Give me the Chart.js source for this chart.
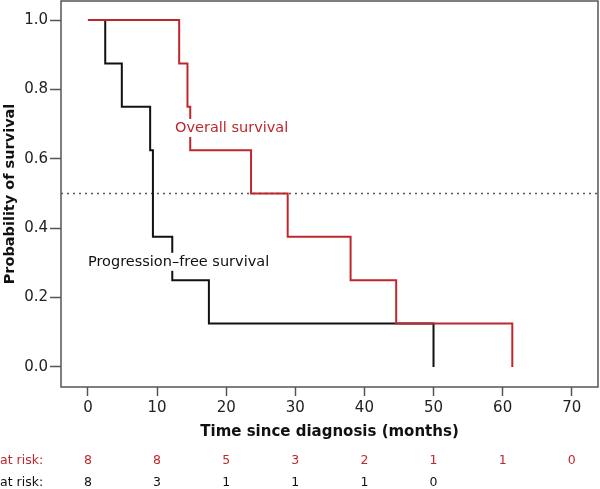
<!DOCTYPE html>
<html>
<head>
<meta charset="utf-8">
<script src="https://cdn.jsdelivr.net/npm/chart.js@4/dist/chart.umd.min.js"></script>
<style>
html,body{margin:0;padding:0;background:#fff;}
#wrap{width:600px;height:489px;position:relative;}
</style>
</head>
<body>
<div id="wrap"><canvas id="c" width="600" height="489"></canvas></div>
<script>
// ---- data ----
const osTimes  = [0, 13.2, 14.4, 14.8, 23.6, 28.9, 38.0, 44.6, 61.4];
const osSurv   = [1.0, 0.875, 0.75, 0.625, 0.5, 0.375, 0.25, 0.125, 0.0];
const pfsTimes = [0, 2.5, 4.9, 9.0, 9.4, 12.2, 17.5, 50.0];
const pfsSurv  = [1.0, 0.875, 0.75, 0.625, 0.375, 0.25, 0.125, 0.0];
const xTicks   = [0, 10, 20, 30, 40, 50, 60, 70];
const yTicks   = [0.0, 0.2, 0.4, 0.6, 0.8, 1.0];
const osAtRisk  = [8, 8, 5, 3, 2, 1, 1, 0];
const pfsAtRisk = [8, 3, 1, 1, 1, 0];
const medianLine = 0.5;
const osLabel  = {text: 'Overall survival', x: 12.6, y: 0.689};
const pfsLabel = {text: 'Progression\u2013free survival', x: 0.0, y: 0.303};

const RED = '#c0272d';
const BLACK = '#111111';
const AXIS = '#555555';
const FONT = '"DejaVu Sans", sans-serif';

const toPts = (t, s) => t.map((v, i) => ({x: v, y: s[i]}));

const overlay = {
  id: 'overlay',
  beforeDatasetsDraw(chart) {
    const {ctx, chartArea: a, scales: {x, y}} = chart;
    ctx.save();
    const yy = Math.round(y.getPixelForValue(medianLine)) + 0.5;
    ctx.strokeStyle = '#555';
    ctx.lineWidth = 1.3;
    ctx.setLineDash([2, 4]);
    ctx.beginPath(); ctx.moveTo(a.left, yy); ctx.lineTo(a.right, yy); ctx.stroke();
    ctx.restore();
  },
  afterDatasetsDraw(chart) {
    const {ctx, chartArea: a, scales: {x, y}} = chart;
    ctx.save();
    ctx.font = '14.5px ' + FONT;
    ctx.textBaseline = 'middle';
    ctx.textAlign = 'left';
    [[osLabel, RED], [pfsLabel, BLACK]].forEach(([l, col]) => {
      const px = x.getPixelForValue(l.x), py = y.getPixelForValue(l.y);
      const w = ctx.measureText(l.text).width;
      ctx.fillStyle = '#fff';
      ctx.fillRect(px - 2, py - 9, w + 4, 18);
      ctx.fillStyle = col;
      ctx.fillText(l.text, px, py);
    });
    ctx.strokeStyle = AXIS;
    ctx.lineWidth = 1.5;
    ctx.strokeRect(a.left, a.top, a.right - a.left, a.bottom - a.top);
    ctx.font = '12.5px ' + FONT;
    ctx.textBaseline = 'middle';
    const rows = [[osAtRisk, RED, 461], [pfsAtRisk, BLACK, 483]];
    rows.forEach(([vals, col, ry]) => {
      ctx.fillStyle = col;
      ctx.textAlign = 'left';
      ctx.fillText('at risk:', 0, ry);
      ctx.textAlign = 'center';
      vals.forEach((v, i) => ctx.fillText(String(v), x.getPixelForValue(xTicks[i]), ry));
    });
    ctx.restore();
  }
};

new Chart(document.getElementById('c'), {
  type: 'scatter',
  data: {
    datasets: [
      {label: 'Overall survival', data: toPts(osTimes, osSurv), showLine: true, stepped: 'before',
       borderColor: RED, borderWidth: 2, pointRadius: 0, fill: false},
      {label: 'Progression-free survival', data: toPts(pfsTimes, pfsSurv), showLine: true, stepped: 'before',
       borderColor: BLACK, borderWidth: 2, pointRadius: 0, fill: false}
    ]
  },
  options: {
    responsive: false,
    animation: false,
    events: [],
    layout: {padding: {top: 1, right: 2, bottom: 44, left: 0}},
    plugins: {legend: {display: false}, tooltip: {enabled: false}},
    scales: {
      x: {
        type: 'linear', min: -3.9, max: 73.8,
        afterBuildTicks: s => { s.ticks = xTicks.map(v => ({value: v})); },
        afterFit: s => { s.height = 58; s.paddingLeft = 0; s.paddingRight = 0; },
        grid: {drawOnChartArea: false, drawTicks: true, tickLength: 9, tickColor: AXIS, tickWidth: 1.5},
        border: {display: false},
        ticks: {color: '#222', font: {family: FONT, size: 15}, padding: 3, maxRotation: 0,
                callback: v => String(v)},
        title: {display: true, text: 'Time since diagnosis (months)', color: '#111',
                font: {family: FONT, size: 15, weight: 'bold'}, padding: {top: 4, bottom: 4}}
      },
      y: {
        type: 'linear', min: -0.058, max: 1.055,
        afterBuildTicks: s => { s.ticks = yTicks.map(v => ({value: v})); },
        afterFit: s => { s.width = 61; s.paddingTop = 0; s.paddingBottom = 0; },
        grid: {drawOnChartArea: false, drawTicks: true, tickLength: 11, tickColor: AXIS, tickWidth: 1.5},
        border: {display: false},
        ticks: {color: '#222', font: {family: FONT, size: 15}, padding: 2,
                callback: v => v.toFixed(1)},
        title: {display: true, text: 'Probability of survival', color: '#111',
                font: {family: FONT, size: 14.5, weight: 'bold'}, padding: {top: 2, bottom: 2}}
      }
    }
  },
  plugins: [overlay]
});
</script>
</body>
</html>
